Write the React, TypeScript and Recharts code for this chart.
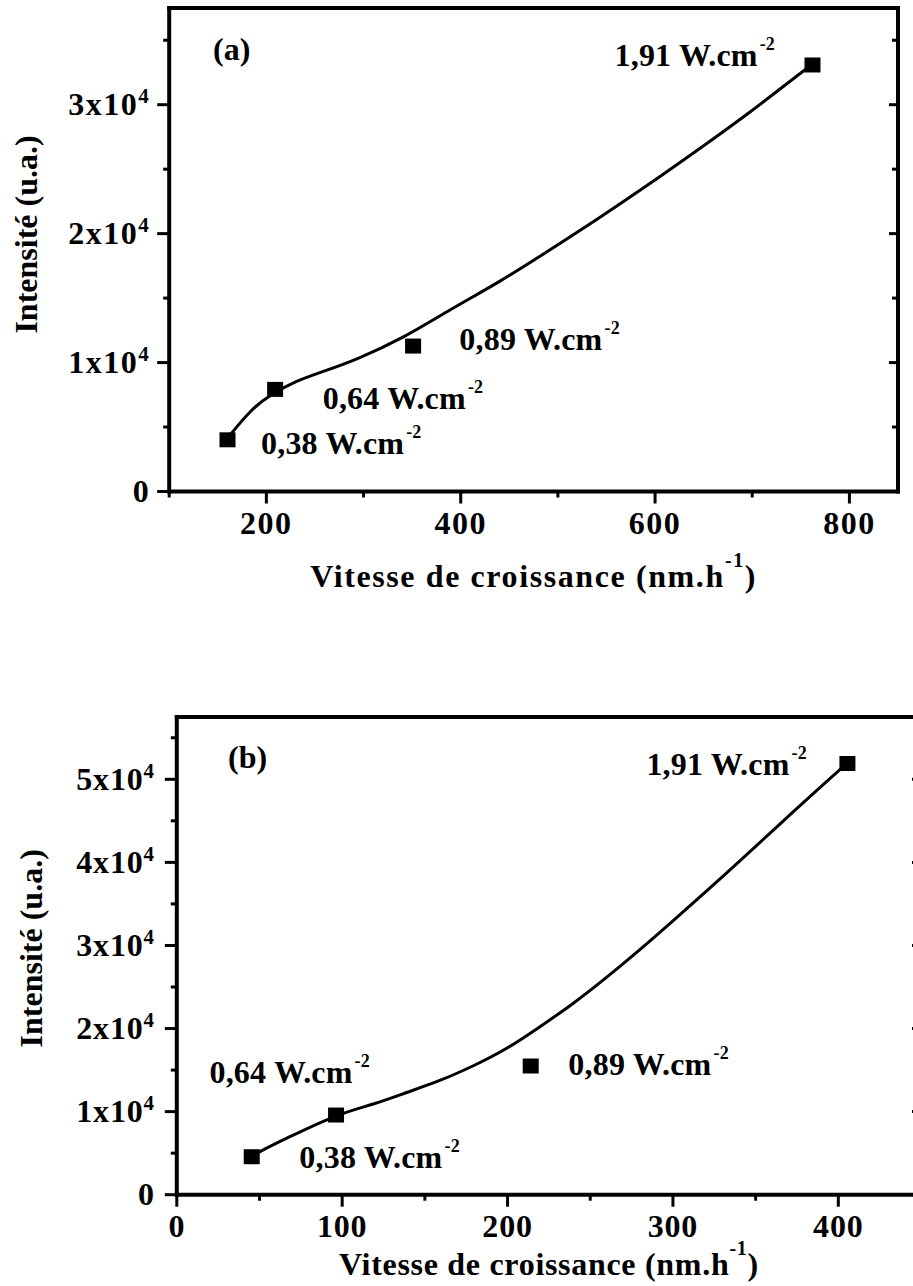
import React from 'react';
import { ComposedChart, Line, Scatter, XAxis, YAxis } from 'recharts';

const FONT = '"Liberation Serif", "Times New Roman", Times, serif';
const INK = '#000000';

// ---------- Panel (a) ----------
const speedA = [160, 209, 351, 762];
const intensityA = [4010, 7920, 11280, 33080];
const powerA = ['0,38', '0,64', '0,89', '1,91'];
const fitSpeedA = [160, 165, 185, 205, 230, 260, 295, 340, 389, 440, 492, 543, 595, 646, 698, 749, 762];
const fitIntensityA = [4100, 4600, 6300, 7480, 8500, 9350, 10350, 11950, 14080, 16300, 18750, 21250, 23900, 26600, 29450, 32400, 33080];
const xTicksA = [100, 200, 300, 400, 500, 600, 700, 800];
const xMajorA = [200, 400, 600, 800];
const yTicksA = [0, 5000, 10000, 15000, 20000, 25000, 30000, 35000];
const yMajorA = [0, 10000, 20000, 30000];
const xDomainA = [100, 850];
const yDomainA = [0, 37500];

// ---------- Panel (b) ----------
const speedB = [45.3, 96.3, 214, 405.5];
const intensityB = [4570, 9590, 15490, 51900];
const powerB = ['0,38', '0,64', '0,89', '1,91'];
const fitSpeedB = [46, 50.3, 68.4, 96.3, 118.8, 139, 159, 179, 199.5, 219.6, 240, 260, 280, 300, 337, 372, 401.5, 405.5];
const fitIntensityB = [4650, 5180, 6980, 9470, 10920, 12300, 13750, 15490, 17620, 20220, 23080, 26180, 29500, 32960, 39550, 45950, 51260, 51900];
const xTicksB = [0, 50, 100, 150, 200, 250, 300, 350, 400, 450];
const xMajorB = [0, 100, 200, 300, 400];
const yTicksB = [0, 5000, 10000, 15000, 20000, 25000, 30000, 35000, 40000, 45000, 50000, 55000];
const yMajorB = [0, 10000, 20000, 30000, 40000, 50000];
const xDomainB = [0, 450];
const yDomainB = [0, 57500];

const xTitle = 'Vitesse de croissance (nm.h';
const yTitle = 'Intensité (u.a.)';
const unitText = ' W.cm';

type Panel = {
  tag: string;
  points: { x: number; y: number; power: string; id: number }[];
  fit: { x: number; y: number }[];
  xTicks: number[];
  xMajor: number[];
  yTicks: number[];
  yMajor: number[];
  xDomain: number[];
  yDomain: number[];
};

const panelA: Panel = {
  tag: '(a)',
  points: speedA.map((x, i) => ({ x, y: intensityA[i], power: powerA[i], id: i })),
  fit: fitSpeedA.map((x, i) => ({ x, y: fitIntensityA[i] })),
  xTicks: xTicksA, xMajor: xMajorA, yTicks: yTicksA, yMajor: yMajorA,
  xDomain: xDomainA, yDomain: yDomainA,
};

const panelB: Panel = {
  tag: '(b)',
  points: speedB.map((x, i) => ({ x, y: intensityB[i], power: powerB[i], id: i })),
  fit: fitSpeedB.map((x, i) => ({ x, y: fitIntensityB[i] })),
  xTicks: xTicksB, xMajor: xMajorB, yTicks: yTicksB, yMajor: yMajorB,
  xDomain: xDomainB, yDomain: yDomainB,
};

// ---------- Layout / style (not data) ----------
type Layout = {
  top: number; width: number; height: number;
  margin: { top: number; right: number; bottom: number; left: number };
  yAxisWidth: number;
  xTitleX: number; xTitleY: number; xTitleLS: number;
  yTitleX: number; yTitleY: number;
  tagX: number; tagY: number;
  yLabelGap: number; tickLS: number;
  labelOffsets: number[][];
};

const layoutA: Layout = {
  top: 0, width: 913, height: 600,
  margin: { top: 7, right: 14, bottom: 28.5, left: 0 },
  yAxisWidth: 169.2,
  xTitleX: 533.6, xTitleY: 587.3, xTitleLS: 1.6,
  yTitleX: 36.7, yTitleY: 234.5,
  tagX: 213, tagY: 60,
  yLabelGap: 19, tickLS: 1.5,
  labelOffsets: [[33.5, 14], [47.6, 20], [46.2, 4], [-198, 1.5]],
};

const layoutB: Layout = {
  top: 620, width: 936, height: 666,
  margin: { top: 96, right: 14, bottom: 11.3, left: 0 },
  yAxisWidth: 176.8,
  xTitleX: 548.9, xTitleY: 655, xTitleLS: 0.7,
  yTitleX: 41.7, yTitleY: 328.3,
  tagX: 228, tagY: 148,
  yLabelGap: 22, tickLS: 0.8,
  labelOffsets: [[47.6, 11.6], [-126.6, -31.7], [37.6, 9], [-201, 11]],
};

const textStyle = {
  fontFamily: FONT,
  fontWeight: 'bold' as const,
  fontSize: 32,
  fill: INK,
};

const makeTick = (side: 'bottom' | 'left' | 'top' | 'right', majors: number[], L: Layout) =>
  (props: any) => {
    const { x, y, payload } = props;
    const v = payload?.value;
    const major = majors.includes(v);
    if (side === 'bottom') {
      const len = major ? 12 : 6;
      return (
        <g>
          <line x1={x} y1={y} x2={x} y2={y + len} stroke={INK} strokeWidth={3} />
          {major && (
            <text x={x} y={y + 42} textAnchor="middle" letterSpacing={L.tickLS} {...textStyle}>
              {String(v)}
            </text>
          )}
        </g>
      );
    }
    if (side === 'left') {
      const len = major ? 12 : 6;
      const n = v / 10000;
      return (
        <g>
          <line x1={x - len} y1={y} x2={x} y2={y} stroke={INK} strokeWidth={3} />
          {major && (
            <text x={x - L.yLabelGap} y={y + 10.5} textAnchor="end" letterSpacing={L.tickLS} {...textStyle}>
              {v === 0 ? '0' : `${n}x10`}
              {v !== 0 && (
                <tspan dy={-12} fontSize={21}>4</tspan>
              )}
            </text>
          )}
        </g>
      );
    }
    if (side === 'top') {
      const len = major ? 9 : 6;
      return <line x1={x} y1={y} x2={x} y2={y + len} stroke={INK} strokeWidth={3} />;
    }
    const len = major ? 9 : 6;
    return <line x1={x - len} y1={y} x2={x} y2={y} stroke={INK} strokeWidth={3} />;
  };

const makeMarker = (L: Layout) => (props: any) => {
  const { cx, cy, payload } = props;
  if (cx == null || cy == null) return <g />;
  const off = L.labelOffsets[payload?.id ?? 0] ?? [0, 0];
  return (
    <g>
      <rect x={cx - 8} y={cy - 7.5} width={16} height={15} fill={INK} />
      <text x={cx + off[0]} y={cy + off[1]} letterSpacing={0.2} {...textStyle}>
        {payload.power}
        {unitText}
        <tspan dx={2} dy={-16} fontSize={18}>-2</tspan>
      </text>
    </g>
  );
};

const axisLineStyle = { stroke: INK, strokeWidth: 4, strokeLinecap: 'square' as const };

function PanelChart({ P, L }: { P: Panel; L: Layout }) {
  const xTitleLabel = () => (
    <text x={L.xTitleX} y={L.xTitleY} textAnchor="middle" letterSpacing={L.xTitleLS} {...textStyle}>
      {xTitle}
      <tspan dy={-20} fontSize={20}>-1</tspan>
      <tspan dy={20}>)</tspan>
    </text>
  );
  const yTitleLabel = () => (
    <text
      x={L.yTitleX}
      y={L.yTitleY}
      transform={`rotate(-90 ${L.yTitleX} ${L.yTitleY})`}
      textAnchor="middle"
      {...textStyle}
    >
      {yTitle}
    </text>
  );
  const tagLabel = () => (
    <text x={L.tagX} y={L.tagY} {...textStyle}>
      {P.tag}
    </text>
  );

  return (
    <div style={{ position: 'absolute', left: 0, top: L.top, width: L.width, height: L.height }}>
      <ComposedChart width={L.width} height={L.height} margin={L.margin}>
        <XAxis
          xAxisId={0}
          dataKey="x"
          type="number"
          domain={P.xDomain}
          ticks={P.xTicks}
          interval={0}
          allowDataOverflow
          height={80}
          tickSize={0}
          tickMargin={0}
          tickLine={false}
          axisLine={axisLineStyle}
          tick={makeTick('bottom', P.xMajor, L)}
          label={xTitleLabel}
        />
        <XAxis
          xAxisId="top"
          orientation="top"
          type="number"
          domain={P.xDomain}
          ticks={P.xTicks}
          interval={0}
          allowDataOverflow
          height={1}
          tickSize={0}
          tickMargin={0}
          tickLine={false}
          axisLine={axisLineStyle}
          tick={makeTick('top', P.xMajor, L)}
          label={tagLabel}
        />
        <YAxis
          yAxisId={0}
          type="number"
          domain={P.yDomain}
          ticks={P.yTicks}
          interval={0}
          allowDataOverflow
          width={L.yAxisWidth}
          tickSize={0}
          tickMargin={0}
          tickLine={false}
          axisLine={axisLineStyle}
          tick={makeTick('left', P.yMajor, L)}
          label={yTitleLabel}
        />
        <YAxis
          yAxisId="right"
          orientation="right"
          type="number"
          domain={P.yDomain}
          ticks={P.yTicks}
          interval={0}
          allowDataOverflow
          width={1}
          tickSize={0}
          tickMargin={0}
          tickLine={false}
          axisLine={axisLineStyle}
          tick={makeTick('right', P.yMajor, L)}
        />
        <Line
          xAxisId={0}
          yAxisId={0}
          data={P.fit}
          dataKey="y"
          type="natural"
          stroke={INK}
          strokeWidth={3}
          dot={false}
          activeDot={false}
          isAnimationActive={false}
        />
        <Scatter
          xAxisId={0}
          yAxisId={0}
          data={P.points}
          dataKey="y"
          fill={INK}
          shape={makeMarker(L)}
          isAnimationActive={false}
        />
      </ComposedChart>
    </div>
  );
}

export default function App() {
  return (
    <div
      style={{
        position: 'absolute',
        left: 0,
        top: 0,
        width: 913,
        height: 1286,
        overflow: 'hidden',
        background: '#ffffff',
      }}
    >
      <PanelChart P={panelA} L={layoutA} />
      <PanelChart P={panelB} L={layoutB} />
    </div>
  );
}
